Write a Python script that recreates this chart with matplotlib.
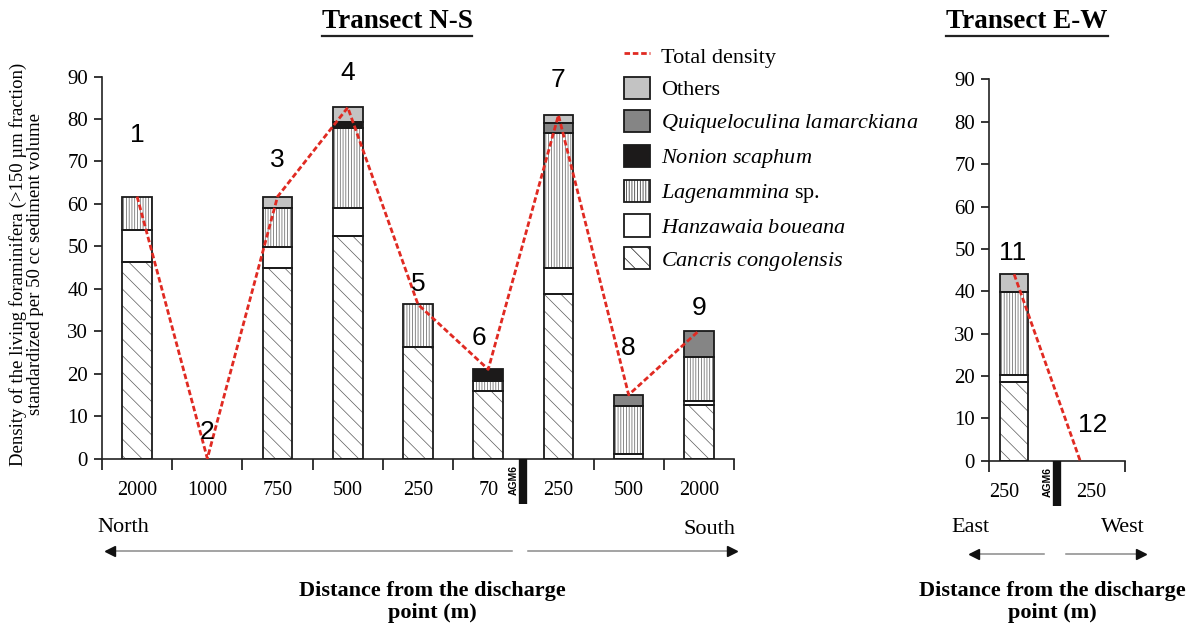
import matplotlib
matplotlib.use("Agg")
import matplotlib.pyplot as plt
from matplotlib.patches import Patch
from matplotlib.lines import Line2D
import matplotlib.transforms as mtransforms
import numpy as np

plt.rcParams['font.family'] = ['Liberation Serif', 'DejaVu Serif']
plt.rcParams['mathtext.fontset'] = 'custom'
plt.rcParams['mathtext.it'] = 'Liberation Serif:italic'
plt.rcParams['mathtext.rm'] = 'Liberation Serif'
plt.rcParams['hatch.linewidth'] = 0.5

# --- Transect N-S (stations 1-9) ---
ns_stations = ['1', '2', '3', '4', '5', '6', '7', '8', '9']
ns_distance = ['2000', '1000', '750', '500', '250', '70', '250', '500', '2000']
ns_cancris = [46.4, 0, 45.0, 52.5, 26.2, 16.0, 38.8, 0, 12.6]
ns_hanzawaia = [7.4, 0, 4.9, 6.5, 0, 0, 6.0, 1.0, 1.0]
ns_lagenammina = [7.9, 0, 9.1, 18.8, 10.1, 2.3, 31.8, 11.4, 10.2]
ns_nonion = [0, 0, 0, 1.4, 0, 2.7, 0, 0, 0]
ns_quique = [0, 0, 0, 0, 0, 0, 2.5, 2.6, 6.3]
ns_others = [0, 0, 2.7, 3.5, 0, 0, 1.8, 0, 0]

# --- Transect E-W (stations 11-12) ---
ew_stations = ['11', '12']
ew_distance = ['250', '250']
ew_cancris = [18.6, 0]
ew_hanzawaia = [1.6, 0]
ew_lagenammina = [19.7, 0]
ew_nonion = [0, 0]
ew_quique = [0, 0]
ew_others = [4.1, 0]

# fill colour / hatch for each group, bottom to top
styles = [
    dict(label=r'$\it{Cancris\ congolensis}$', fc='white', hatch='\\\\'),
    dict(label=r'$\it{Hanzawaia\ boueana}$', fc='white', hatch=None),
    dict(label=r'$\it{Lagenammina}$ sp.', fc='white', hatch='||||||'),
    dict(label=r'$\it{Nonion\ scaphum}$', fc='#1c1a1a', hatch=None),
    dict(label=r'$\it{Quiqueloculina\ lamarckiana}$', fc='#858585', hatch=None),
    dict(label='Others', fc='#c3c3c3', hatch=None),
]
RED = '#e02a22'

W, H = 1196, 630
fig = plt.figure(figsize=(W / 100, H / 100), dpi=100)


def fx(px):
    return px / W


def fy(py):
    return 1 - py / H


def stacked(ax, x, groups, width):
    bottom = np.zeros(len(x))
    for vals, st in zip(groups, styles):
        vals = np.asarray(vals, dtype=float)
        for xi, v, b in zip(x, vals, bottom):
            if v <= 0:
                continue
            if st['hatch']:
                ax.bar(xi, v, width, bottom=b, color=st['fc'], hatch=st['hatch'],
                       edgecolor='#5a5a5a', linewidth=0, zorder=2)
            else:
                ax.bar(xi, v, width, bottom=b, color=st['fc'], linewidth=0, zorder=2)
            ax.bar(xi, v, width, bottom=b, fill=False, edgecolor='#1a1a1a',
                   linewidth=1.3, zorder=3)
        bottom += vals
    return bottom


def style_axis(ax):
    for s in ['top', 'right']:
        ax.spines[s].set_visible(False)
    for s in ['left', 'bottom']:
        ax.spines[s].set_linewidth(1.2)
        ax.spines[s].set_color('#222222')
    ax.set_ylim(0, 90)
    ax.set_yticks(np.arange(0, 91, 10))
    ax.tick_params(axis='y', direction='out', length=6, width=1.1, labelsize=15, pad=4)
    ax.tick_params(axis='x', which='major', direction='out', length=8, width=1.1,
                   labelbottom=False)
    ax.tick_params(axis='x', which='minor', length=0, labelsize=14.5, pad=16)


def agm6(ax, x, label_x):
    tr = mtransforms.blended_transform_factory(ax.transData, ax.transAxes)
    ax.plot([x, x], [0, -0.12], transform=tr, color='#111111', lw=6,
            solid_capstyle='butt', clip_on=False, zorder=4)
    ax.text(label_x, -0.055, 'AGM6', transform=tr, rotation=90, ha='center',
            va='center', fontsize=7.5, fontweight='bold', family='Liberation Sans')


# ---------------- N-S panel ----------------
ax1 = fig.add_axes([fx(102), fy(458.5), fx(632), 382 / H])
x1 = np.arange(len(ns_stations))
tot1 = stacked(ax1, x1, [ns_cancris, ns_hanzawaia, ns_lagenammina,
                         ns_nonion, ns_quique, ns_others], 0.42)
ax1.plot(x1, tot1, color=RED, lw=2, linestyle=(0, (2, 1)), zorder=5)
ax1.set_xlim(-0.5, len(x1) - 0.5)
ax1.set_xticks([b for b in np.arange(-0.5, len(x1)) if b != 5.5])
ax1.set_xticks(x1, minor=True)
ax1.set_xticklabels(ns_distance, minor=True)
style_axis(ax1)

ns_label_x = [0, 1, 2, 3, 4, 4.87, 6, 7, 8]
ns_label_y = [76.2, 6.2, 70.3, 90.8, 41.1, 28.4, 89.2, 26.0, 35.5]
for s, lx, ly in zip(ns_stations, ns_label_x, ns_label_y):
    ax1.text(lx, ly, s, ha='center', va='center', fontsize=19,
             family='Liberation Sans', clip_on=False, zorder=6)
agm6(ax1, 5.5, 5.36)

# ---------------- E-W panel ----------------
ax2 = fig.add_axes([fx(989), fy(460.7), fx(136), 381.3 / H])
x2 = np.array([0.37, 1.34])
tot2 = stacked(ax2, x2, [ew_cancris, ew_hanzawaia, ew_lagenammina,
                         ew_nonion, ew_quique, ew_others], 0.41)
ax2.plot(x2, tot2, color=RED, lw=2, linestyle=(0, (2, 1)), zorder=5)
ax2.set_xlim(0, 2)
ax2.set_xticks([0, 2])
ax2.set_xticks([0.22, 1.5], minor=True)
ax2.set_xticklabels(ew_distance, minor=True)
style_axis(ax2)

ew_label_x = [0.35, 1.53]
ew_label_y = [49.0, 8.4]
for s, lx, ly in zip(ew_stations, ew_label_x, ew_label_y):
    ax2.text(lx, ly, s, ha='center', va='center', fontsize=19,
             family='Liberation Sans', clip_on=False, zorder=6)
agm6(ax2, 1.0, 0.86)

# ---------------- y label ----------------
fig.text(fx(27), fy(264), 'Density of the living foraminifera (>150 µm fraction)\n'
         'standardized per 50 cc sediment volume', rotation=90, ha='center',
         va='center', fontsize=13.5, multialignment='center', linespacing=1.0)

# ---------------- legend ----------------
handles = [Line2D([0], [0], color=RED, lw=2, linestyle=(0, (2, 1)))]
labels = ['Total density']
for st in reversed(styles):
    handles.append(Patch(facecolor=st['fc'], edgecolor='#1a1a1a', linewidth=1.3,
                         hatch=st['hatch']))
    labels.append(st['label'])
fig.legend(handles, labels, loc='upper left', bbox_to_anchor=(fx(624), fy(44)),
           frameon=False, fontsize=16, handlelength=1.15, handleheight=1.15,
           labelspacing=0.42, handletextpad=0.5, borderpad=0, borderaxespad=0)

# ---------------- titles ----------------
titles = [fig.text(fx(397), fy(22), 'Transect N-S', ha='center', va='center',
                   fontsize=19.5, fontweight='bold'),
          fig.text(fx(1027), fy(22), 'Transect E-W', ha='center', va='center',
                   fontsize=19.5, fontweight='bold')]
fig.canvas.draw()
renderer = fig.canvas.get_renderer()
for t in titles:
    bb = t.get_window_extent(renderer)
    fig.add_artist(Line2D([bb.x0 / W, bb.x1 / W], [fy(36), fy(36)],
                          transform=fig.transFigure, color='#222222', lw=1.6))

# ---------------- direction labels and arrows ----------------
fig.text(fx(97), fy(527), 'North', ha='left', va='center', fontsize=16)
fig.text(fx(735), fy(529), 'South', ha='right', va='center', fontsize=16)
fig.text(fx(970), fy(528), 'East', ha='center', va='center', fontsize=16)
fig.text(fx(1123), fy(528), 'West', ha='center', va='center', fontsize=16)


def arrow(x_from, x_to, y):
    fig.add_artist(Line2D([fx(x_from), fx(x_to)], [fy(y), fy(y)],
                          transform=fig.transFigure, color='#8a8a8a', lw=1.1))
    d = 1 if x_to > x_from else -1
    fig.add_artist(Line2D([fx(x_to - 3 * d)], [fy(y)], transform=fig.transFigure,
                          marker='>' if d > 0 else '<', markersize=7,
                          color='#111111', linestyle='none'))


arrow(512, 107, 551)
arrow(528, 735, 551)
arrow(1044, 971, 554)
arrow(1066, 1144, 554)

fig.text(fx(432), fy(602), 'Distance from the discharge\npoint (m)', ha='center',
         va='center', fontsize=16, fontweight='bold', linespacing=1.15)
fig.text(fx(1052), fy(602), 'Distance from the discharge\npoint (m)', ha='center',
         va='center', fontsize=16, fontweight='bold', linespacing=1.15)

fig.savefig('out.png', dpi=100)
